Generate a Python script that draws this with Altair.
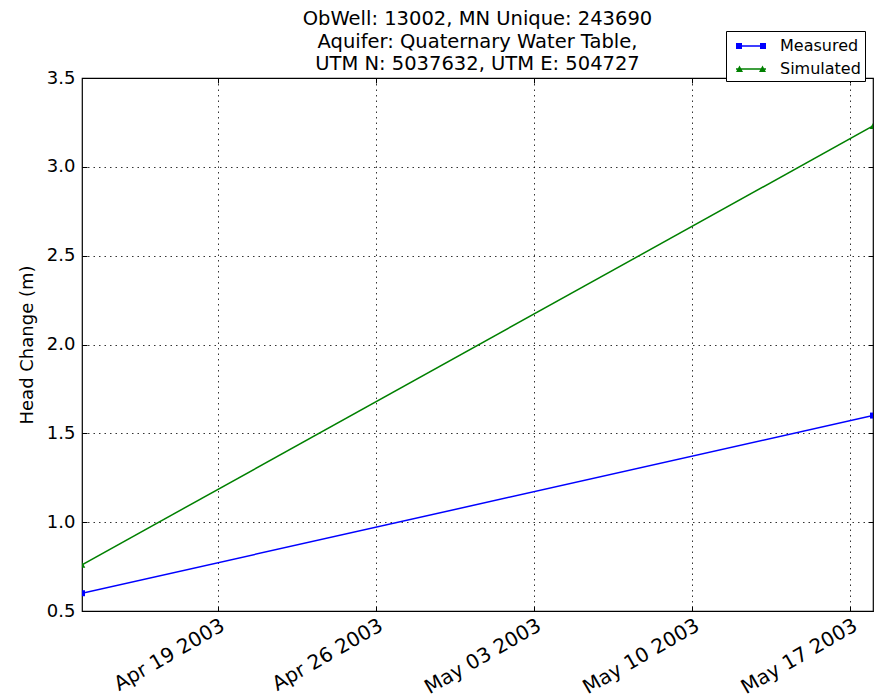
import altair as alt
import pandas as pd

dates = ["2003-04-13T00:00:00", "2003-05-18T00:00:00"]
measured = [0.6, 1.6]
simulated = [0.76, 3.23]
series_names = ["Measured", "Simulated"]
series_colors = ["#0000ff", "#008000"]
title_lines = ["ObWell: 13002, MN Unique: 243690",
               "Aquifer: Quaternary Water Table,",
               "UTM N: 5037632, UTM E: 504727"]
x_ticks = [(2003, 4, 19), (2003, 4, 26), (2003, 5, 3), (2003, 5, 10), (2003, 5, 17)]
y_ticks = [0.5, 1.0, 1.5, 2.0, 2.5, 3.0, 3.5]

rows = []
for d, m, s in zip(dates, measured, simulated):
    rows.append({"date": d, "series": "Measured", "value": m})
    rows.append({"date": d, "series": "Simulated", "value": s})
df = pd.DataFrame(rows)

FONT = "DejaVu Sans"
x_scale = alt.Scale(domain=[alt.DateTime(year=2003, month=4, date=13),
                            alt.DateTime(year=2003, month=5, date=18)])
y_scale = alt.Scale(domain=[0.5, 3.5], nice=False, zero=False)
x_vals = [alt.DateTime(year=a, month=b, date=c) for a, b, c in x_ticks]

main_x_axis = alt.Axis(title=None, format="%b %d %Y", values=x_vals,
                       labelAngle=330, labelAlign="right", labelBaseline="top",
                       labelPadding=4, labelFontSize=20,
                       grid=True, ticks=False, domain=False)
main_y_axis = alt.Axis(title="Head Change (m)", format=".1f", values=y_ticks,
                       titlePadding=10, labelPadding=7, labelFontSize=18,
                       grid=True, ticks=False, domain=False)


def tick_axis(orient, vals):
    return alt.Axis(orient=orient, title=None, values=vals, labels=False,
                    grid=False, domain=False, ticks=True, tickSize=5,
                    tickColor="black", tickWidth=1, offset=-5)


base = alt.Chart(df)

xn = alt.X("date:T", scale=x_scale, axis=None)
yn = alt.Y("value:Q", scale=y_scale, axis=None)

line_m = base.transform_filter(alt.datum.series == "Measured").mark_line(
    strokeWidth=1.5, clip=True, color=series_colors[0]).encode(
    x=alt.X("date:T", scale=x_scale, axis=main_x_axis),
    y=alt.Y("value:Q", scale=y_scale, axis=main_y_axis))
line_s = base.transform_filter(alt.datum.series == "Simulated").mark_line(
    strokeWidth=1.5, clip=True, color=series_colors[1]).encode(x=xn, y=yn)

sq = base.transform_filter(alt.datum.series == "Measured").mark_point(
    shape="square", filled=True, size=36, opacity=1, clip=True, color=series_colors[0]
).encode(x=xn, y=yn)

tri = base.transform_filter(alt.datum.series == "Simulated").mark_point(
    shape="triangle-up", filled=True, size=45, opacity=1, clip=True, color=series_colors[1]
).encode(x=xn, y=yn)

ticks_bl = base.transform_filter("false").mark_point().encode(
    x=alt.X("date:T", scale=x_scale, axis=tick_axis("bottom", x_vals)),
    y=alt.Y("value:Q", scale=y_scale, axis=tick_axis("left", y_ticks)))
ticks_tr = base.transform_filter("false").mark_point().encode(
    x=alt.X("date:T", scale=x_scale, axis=tick_axis("top", x_vals)),
    y=alt.Y("value:Q", scale=y_scale, axis=tick_axis("right", y_ticks)))

path_measured = ("M-0.5,-0.08H2.5V0.08H-0.5Z "
                 "M-0.5,-0.3H0.1V0.3H-0.5Z M1.9,-0.3H2.5V0.3H1.9Z")
path_simulated = ("M-0.5,-0.08H2.5V0.08H-0.5Z "
                  "M-0.15,-0.35L0.2,0.3H-0.5Z M2.15,-0.35L2.5,0.3H1.8Z")

leg = alt.Legend(title=None, orient="none", legendX=644, legendY=-47,
                 symbolSize=400, labelFontSize=16, labelFont=FONT, labelColor="black",
                 strokeColor="black", fillColor="white",
                 padding=4, rowPadding=4, labelOffset=28, symbolOpacity=1)

legend_layer = base.transform_filter("false").mark_point(filled=True, opacity=1).encode(
    x=xn, y=yn,
    color=alt.Color("series:N",
                    scale=alt.Scale(domain=series_names, range=series_colors),
                    legend=leg),
    shape=alt.Shape("series:N",
                    scale=alt.Scale(domain=series_names,
                                    range=[path_measured, path_simulated]),
                    legend=leg),
)

chart = alt.layer(line_m, line_s, sq, tri, ticks_bl, ticks_tr, legend_layer).resolve_axis(
    x="independent", y="independent"
).properties(
    width=791, height=533,
    title=alt.TitleParams(title_lines, fontSize=19.5, font=FONT, fontWeight="normal",
                          color="black", anchor="middle", lineHeight=22.5, offset=0, dy=44),
    autosize=alt.AutoSizeParams(type="none"),
    padding={"left": 74, "top": 70, "right": 1, "bottom": 86},
).configure_view(
    stroke="black", strokeWidth=1.2
).configure_axis(
    gridColor="black", gridDash=[1.5, 4], gridWidth=0.8, gridOpacity=1,
    labelFont=FONT, labelColor="black",
    titleFont=FONT, titleFontSize=18, titleFontWeight="normal", titleColor="black",
)

chart.save("out.html", embed_options={"renderer": "svg", "actions": False})
